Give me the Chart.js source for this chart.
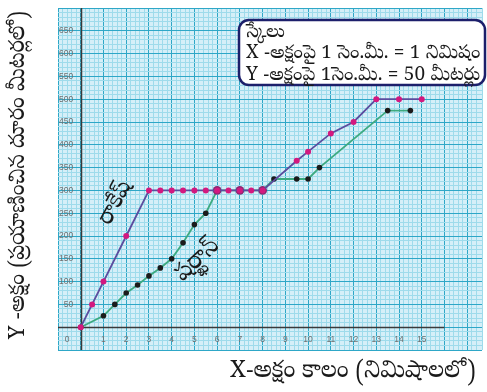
<!DOCTYPE html>
<html>
<head>
<meta charset="utf-8">
<style>
  html, body { margin: 0; padding: 0; background: #ffffff; }
  #wrap { width: 487px; height: 392px; position: relative; }
</style>
<script src="https://cdn.jsdelivr.net/npm/chart.js@4/dist/chart.umd.min.js"></script>
</head>
<body>
<div id="wrap"><canvas id="c" width="487" height="392"></canvas></div>
<script>
// Time (minutes) and distance travelled (metres) for each walker
const rakeshTime = [0, 0.5, 1, 2, 3, 3.5, 4, 4.5, 5, 5.5, 6, 6.5, 7, 7.5, 8, 9.5, 10, 11, 12, 13, 14, 15];
const rakeshDist = [0, 50, 100, 200, 300, 300, 300, 300, 300, 300, 300, 300, 300, 300, 300, 365, 385, 425, 450, 500, 500, 500];
const salmanTime = [0, 1, 1.5, 2, 2.5, 3, 3.5, 4, 4.5, 5, 5.5, 6, 7, 8, 8.5, 9.5, 10, 10.5, 13.5, 14.5];
const salmanDist = [0, 25, 50, 75, 92.5, 112.5, 130, 150, 185, 225, 250, 300, 300, 300, 325, 325, 325, 350, 475, 475];

// Tick labels printed on the graph paper
const xTickLabels = [1, 2, 3, 4, 5, 6, 7, 8, 9, 10, 11, 12, 13, 14, 15];
const yTickLabels = [50, 100, 150, 200, 250, 300, 350, 400, 450, 500, 550, 600, 650];

// Texts
const rakeshName = 'రాకేష్';
const salmanName = 'షర్ఖాన్';
const scaleTitle = 'స్కేలు';
const scaleLines = ['X -అక్షంపై 1 సెం.మీ. = 1 నిమిషం', 'Y -అక్షంపై 1సెం.మీ. = 50 మీటర్లు'];
const xTitle = 'X-అక్షం కాలం (నిమిషాలలో)';
const yTitle = 'Y -అక్షం (ప్రయాణించిన దూరం మీటర్లలో)';

const TEL = "'Noto Serif Telugu', 'Noto Sans Telugu', 'Gautami', 'Liberation Serif', 'DejaVu Serif', serif";

const toPoints = (xs, ys) => xs.map((x, i) => ({ x: x, y: ys[i] }));
const isMult = (v, m) => Math.abs(v / m - Math.round(v / m)) < 1e-6;

// Graph-paper colours
const PAPER = '#d5eff8';
const MINOR = '#9edbeb';
const HALF = '#6fcae0';
const MAJOR = '#2ea7c7';
const AXIS = '#3a3a3a';

const paperPlugin = {
  id: 'paper',
  beforeDraw(chart) {
    const { ctx, chartArea: a } = chart;
    ctx.save();
    ctx.fillStyle = '#ffffff';
    ctx.fillRect(0, 0, chart.width, chart.height);
    ctx.fillStyle = PAPER;
    ctx.fillRect(a.left, a.top, a.right - a.left, a.bottom - a.top);
    ctx.restore();
  },
  beforeDatasetsDraw(chart) {
    // the two axes: the time axis runs from -1 to 16, the distance axis spans the whole sheet
    const { ctx, chartArea: a, scales: { x, y } } = chart;
    const py = Math.round(y.getPixelForValue(0)) + 0.5;
    const px = Math.round(x.getPixelForValue(0)) + 0.5;
    ctx.save();
    ctx.strokeStyle = AXIS;
    ctx.lineWidth = 1.5;
    ctx.beginPath();
    ctx.moveTo(x.getPixelForValue(-1), py);
    ctx.lineTo(x.getPixelForValue(16), py);
    ctx.moveTo(px, a.top);
    ctx.lineTo(px, a.bottom);
    ctx.stroke();
    ctx.restore();
  }
};

const notesPlugin = {
  id: 'notes',
  afterDatasetsDraw(chart) {
    const { ctx, scales: { x, y } } = chart;
    ctx.save();

    // walker names written along their lines
    const rotatedText = (txt, vx, vy, deg, size) => {
      ctx.save();
      ctx.translate(x.getPixelForValue(vx), y.getPixelForValue(vy));
      ctx.rotate(deg * Math.PI / 180);
      ctx.font = size + 'px ' + TEL;
      ctx.fillStyle = '#1a1a1a';
      ctx.textAlign = 'center';
      ctx.textBaseline = 'middle';
      ctx.fillText(txt, 0, 0);
      ctx.restore();
    };
    rotatedText(rakeshName, 1.62, 270, -62, 23);
    rotatedText(salmanName, 5.2, 143, -43, 24);

    // scale box
    const bx = 239, by = 20, bw = 246, bh = 65;
    ctx.beginPath();
    ctx.roundRect(bx, by, bw, bh, 10);
    ctx.fillStyle = '#ffffff';
    ctx.fill();
    ctx.lineWidth = 2.5;
    ctx.strokeStyle = '#1c1f6b';
    ctx.stroke();
    ctx.fillStyle = '#1a1a1a';
    ctx.textAlign = 'left';
    ctx.textBaseline = 'alphabetic';
    ctx.font = '19px ' + TEL;
    ctx.fillText(scaleTitle, 246, 37);
    ctx.fillText(scaleLines[0], 246, 58);
    ctx.fillText(scaleLines[1], 246, 80);

    // axis titles
    ctx.font = '24px ' + TEL;
    ctx.textAlign = 'center';
    ctx.textBaseline = 'middle';
    ctx.fillText(xTitle, 353, 374);
    ctx.save();
    ctx.translate(21, 175);
    ctx.rotate(-Math.PI / 2);
    ctx.font = '22px ' + TEL;
    ctx.fillText(yTitle, 0, 0);
    ctx.restore();

    ctx.restore();
  }
};

const salmanRadius = salmanTime.map(t => (t >= 6 && t <= 8 ? 4.4 : 2.8));
const salmanFill = salmanTime.map(t => (t >= 6 && t <= 8 ? '#862a72' : '#1b1b1b'));

new Chart(document.getElementById('c'), {
  type: 'scatter',
  data: {
    datasets: [
      {
        label: rakeshName,
        data: toPoints(rakeshTime, rakeshDist),
        showLine: true,
        borderColor: '#5b4c9e',
        borderWidth: 1.8,
        pointBackgroundColor: '#d3197f',
        pointBorderWidth: 0,
        pointRadius: 3,
        tension: 0
      },
      {
        label: salmanName,
        data: toPoints(salmanTime, salmanDist),
        showLine: true,
        borderColor: '#3daa80',
        borderWidth: 1.8,
        pointBackgroundColor: salmanFill,
        pointBorderWidth: 0,
        pointRadius: salmanRadius,
        tension: 0
      }
    ]
  },
  options: {
    responsive: false,
    animation: false,
    devicePixelRatio: 1,
    layout: { padding: { left: 58, top: 8, right: 0, bottom: 42 } },
    plugins: { legend: { display: false }, tooltip: { enabled: false } },
    scales: {
      x: {
        type: 'linear',
        position: 'bottom',
        min: -1,
        max: 17.65,
        afterFit: s => { s.height = 0; },
        border: { display: false },
        grid: {
          drawTicks: false,
          color: c => {
            const v = c.tick.value;
            if (isMult(v, 1)) return MAJOR;
            if (isMult(v, 0.5)) return HALF;
            return MINOR;
          },
          lineWidth: 1
        },
        ticks: {
          stepSize: 0.2,
          autoSkip: false,
          maxRotation: 0,
          minRotation: 0,
          mirror: true,
          padding: 5,
          color: '#707070',
          font: { size: 8.5, family: "'Liberation Sans', Arial, sans-serif" },
          callback: v => {
            if (Math.abs(v + 0.6) < 1e-6) return '0';
            if (isMult(v, 1) && xTickLabels.includes(Math.round(v))) return String(Math.round(v));
            return '';
          }
        }
      },
      y: {
        type: 'linear',
        position: 'left',
        min: -50,
        max: 700,
        afterFit: s => { s.width = 0; },
        border: { display: false },
        grid: {
          drawTicks: false,
          color: c => {
            const v = c.tick.value;
            if (isMult(v, 50)) return MAJOR;
            if (isMult(v, 25)) return HALF;
            return MINOR;
          },
          lineWidth: 1
        },
        ticks: {
          stepSize: 10,
          autoSkip: false,
          mirror: true,
          crossAlign: 'far',
          padding: 1,
          color: '#707070',
          font: { size: 8.5, family: "'Liberation Sans', Arial, sans-serif" },
          callback: v => (isMult(v, 50) && yTickLabels.includes(Math.round(v)) ? String(Math.round(v)) : '')
        }
      }
    }
  },
  plugins: [paperPlugin, notesPlugin]
});
</script>
</body>
</html>
